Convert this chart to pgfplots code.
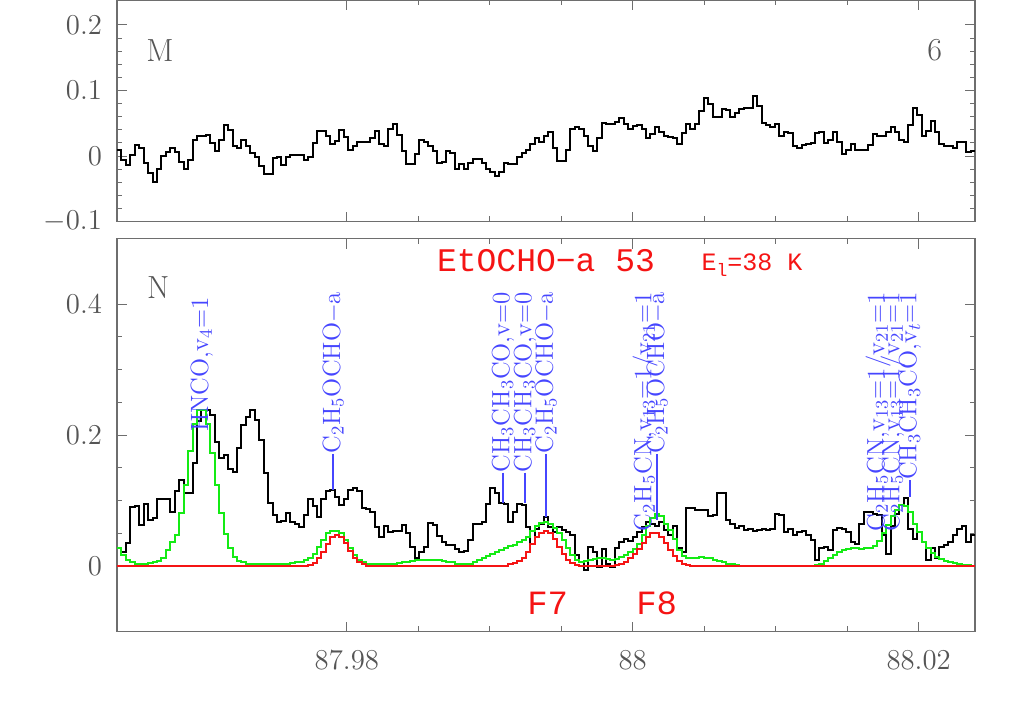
\documentclass[border=0pt]{standalone}
\usepackage{pgfplots}
\pgfplotsset{compat=1.18}
\usepackage{pgfplotstable}
\usepackage{fontspec}
\newfontfamily\redmono{Liberation Mono}
\definecolor{tickgray}{RGB}{85,85,85}
\definecolor{framegray}{RGB}{110,110,110}
\definecolor{labblue}{RGB}{70,70,255}
\definecolor{modgreen}{RGB}{20,235,20}
\definecolor{modred}{RGB}{245,20,20}

\pgfplotstableread{
x t o g r
87.963920 0.009 0.027 0.027 0
87.964231 -0.006 0.022 0.017 0
87.964542 -0.013 0.035 0.009 0
87.964853 0.002 0.091 0.006 0
87.965164 0.017 0.092 0.004 0
87.965475 0.012 0.063 0.004 0
87.965786 -0.011 0.095 0.004 0
87.966097 -0.026 0.070 0.005 0
87.966408 -0.039 0.074 0.007 0
87.966719 -0.019 0.103 0.008 0
87.967030 0.000 0.103 0.012 0
87.967341 0.007 0.103 0.024 0
87.967652 0.013 0.083 0.037 0
87.967963 0.006 0.115 0.047 0
87.968274 -0.009 0.131 0.081 0
87.968585 -0.019 0.111 0.124 0
87.968896 -0.006 0.111 0.175 0
87.969207 0.024 0.157 0.217 0
87.969518 0.031 0.221 0.239 0
87.969829 0.030 0.239 0.239 0
87.970140 0.032 0.239 0.217 0
87.970451 0.020 0.231 0.172 0
87.970762 0.008 0.190 0.124 0
87.971073 0.024 0.165 0.081 0
87.971384 0.048 0.170 0.049 0
87.971695 0.040 0.149 0.027 0
87.972006 0.015 0.143 0.014 0
87.972317 0.013 0.180 0.008 0
87.972628 0.024 0.216 0.006 0
87.972939 0.015 0.228 0.004 0
87.973250 0.004 0.239 0.004 0
87.973561 -0.002 0.223 0.004 0
87.973872 -0.015 0.192 0.004 0
87.974183 -0.028 0.142 0.004 0
87.974494 -0.028 0.096 0.004 0
87.974805 -0.003 0.078 0.004 0
87.975116 -0.002 0.068 0.004 0
87.975427 -0.013 0.069 0.004 0
87.975738 -0.001 0.081 0.004 0
87.976049 0.002 0.068 0.005 0
87.976360 0.002 0.065 0.006 0
87.976671 0.002 0.060 0.007 0
87.976982 -0.006 0.078 0.009 0
87.977293 -0.002 0.103 0.012 0.002
87.977604 0.020 0.092 0.019 0.005
87.977915 0.038 0.075 0.029 0.012
87.978226 0.038 0.103 0.040 0.022
87.978537 0.030 0.114 0.050 0.034
87.978848 0.019 0.116 0.054 0.044
87.979159 0.023 0.106 0.054 0.048
87.979470 0.040 0.094 0.050 0.045
87.979781 0.029 0.103 0.040 0.035
87.980092 0.009 0.116 0.027 0.023
87.980403 0.016 0.119 0.017 0.012
87.980714 0.022 0.114 0.009 0.006
87.981025 0.022 0.088 0.006 0.003
87.981336 0.021 0.087 0.004 0.001
87.981647 0.028 0.082 0.003 0
87.981958 0.038 0.060 0.003 0
87.982269 0.019 0.045 0.003 0
87.982580 0.015 0.061 0.003 0
87.982891 0.041 0.052 0.003 0
87.983202 0.049 0.054 0.004 0
87.983513 0.032 0.054 0.005 0
87.983824 0.008 0.063 0.006 0
87.984135 -0.012 0.050 0.007 0
87.984446 -0.012 0.030 0.008 0
87.984757 0.003 0.012 0.009 0
87.985068 0.024 0.022 0.010 0
87.985379 0.022 0.030 0.010 0
87.985690 0.015 0.066 0.010 0
87.986001 0.008 0.063 0.010 0
87.986312 -0.010 0.046 0.009 0
87.986623 -0.009 0.037 0.008 0
87.986934 0.008 0.033 0.007 0
87.987245 0.004 0.032 0.006 0
87.987556 -0.019 0.026 0.004 0
87.987867 -0.012 0.022 0.003 0
87.988178 -0.019 0.023 0.003 0
87.988489 -0.011 0.040 0.004 0
87.988800 -0.005 0.065 0.007 0
87.989111 -0.005 0.065 0.009 0
87.989422 -0.010 0.067 0.012 0
87.989733 -0.019 0.095 0.015 0
87.990044 -0.025 0.119 0.019 0
87.990355 -0.031 0.112 0.022 0
87.990666 -0.025 0.097 0.025 0
87.990977 -0.010 0.095 0.028 0
87.991288 -0.012 0.068 0.031 0.003
87.991599 -0.012 0.083 0.033 0.005
87.991910 -0.002 0.095 0.037 0.008
87.992221 0.004 0.093 0.040 0.013
87.992532 0.009 0.060 0.045 0.022
87.992843 0.019 0.034 0.053 0.034
87.993154 0.028 0.057 0.061 0.045
87.993465 0.021 0.065 0.066 0.051
87.993776 0.031 0.075 0.067 0.053
87.994087 0.037 0.060 0.065 0.050
87.994398 0.012 0.052 0.058 0.041
87.994709 -0.008 0.060 0.050 0.029
87.995020 -0.008 0.055 0.040 0.018
87.995331 0.009 0.052 0.028 0.010
87.995642 0.042 0.047 0.017 0.005
87.995953 0.044 0.017 0.009 0.002
87.996264 0.041 0.007 0.007 0
87.996575 0.031 -0.006 0.008 0
87.996886 0.015 0.029 0.009 0
87.997197 0.008 0.022 0.011 0
87.997508 0.028 -0.001 0.012 0
87.997819 0.050 0.026 0.012 0
87.998130 0.049 0.004 0.011 0
87.998441 0.049 -0.001 0.010 0
87.998752 0.052 0.027 0.011 0.002
87.999063 0.058 0.037 0.014 0.004
87.999374 0.049 0.042 0.017 0.007
87.999685 0.041 0.038 0.021 0.012
87.999996 0.046 0.045 0.026 0.018
88.000307 0.048 0.052 0.034 0.026
88.000618 0.042 0.060 0.048 0.036
88.000929 0.027 0.068 0.061 0.045
88.001240 0.034 0.065 0.073 0.050
88.001551 0.044 0.062 0.079 0.050
88.001862 0.037 0.067 0.077 0.045
88.002173 0.030 0.055 0.065 0.036
88.002484 0.029 0.047 0.055 0.025
88.002795 0.028 0.062 0.042 0.015
88.003106 0.019 0.027 0.024 0.008
88.003417 0.035 0.022 0.016 0.004
88.003728 0.049 0.088 0.013 0.002
88.004039 0.041 0.089 0.012 0
88.004350 0.049 0.086 0.013 0
88.004661 0.069 0.086 0.014 0
88.004972 0.089 0.085 0.013 0
88.005283 0.079 0.077 0.012 0
88.005594 0.059 0.078 0.010 0
88.005905 0.060 0.111 0.008 0
88.006216 0.072 0.112 0.006 0
88.006527 0.070 0.070 0.004 0
88.006838 0.060 0.065 0.003 0
88.007149 0.065 0.058 0.002 0
88.007460 0.072 0.061 0.001 0
88.007771 0.074 0.055 0.001 0
88.008082 0.073 0.057 0.001 0
88.008393 0.091 0.053 0.001 0
88.008704 0.076 0.055 0.001 0
88.009015 0.051 0.056 0.001 0
88.009326 0.048 0.055 0.001 0
88.009637 0.044 0.057 0.001 0
88.009948 0.049 0.079 0.001 0
88.010259 0.031 0.078 0.001 0
88.010570 0.036 0.052 0.001 0
88.010881 0.035 0.057 0.001 0
88.011192 0.015 0.047 0.001 0
88.011503 0.013 0.052 0.001 0
88.011814 0.017 0.053 0.001 0
88.012125 0.019 0.047 0.001 0
88.012436 0.020 0.040 0.001 0
88.012747 0.035 0.009 0.002 0
88.013058 0.036 0.027 0.004 0
88.013369 0.020 0.029 0.008 0
88.013680 0.025 0.024 0.012 0
88.013991 0.037 0.055 0.017 0
88.014302 0.022 0.058 0.021 0
88.014613 0.003 0.057 0.024 0
88.014924 0.009 0.052 0.026 0
88.015235 0.018 0.037 0.027 0
88.015546 0.010 0.034 0.027 0
88.015857 0.009 0.065 0.026 0
88.016168 0.009 0.082 0.027 0
88.016479 0.017 0.082 0.028 0
88.016790 0.033 0.079 0.031 0
88.017101 0.031 0.078 0.038 0
88.017412 0.030 0.047 0.051 0
88.017723 0.036 0.019 0.063 0
88.018034 0.044 0.062 0.077 0
88.018345 0.036 0.080 0.085 0
88.018656 0.024 0.093 0.093 0
88.018967 0.021 0.104 0.092 0
88.019278 0.048 0.057 0.082 0
88.019589 0.073 0.042 0.065 0
88.019900 0.063 0.052 0.052 0
88.020211 0.031 0.037 0.037 0
88.020522 0.039 0.009 0.028 0
88.020833 0.053 0.027 0.020 0
88.021144 0.036 0.012 0.014 0
88.021455 0.019 0.029 0.011 0
88.021766 0.016 0.032 0.008 0
88.022077 0.016 0.037 0.006 0
88.022388 0.013 0.047 0.005 0
88.022699 0.021 0.056 0.003 0
88.023010 0.022 0.061 0.002 0
88.023321 0.007 0.037 0.002 0
88.023632 0.008 0.047 0.001 0
88.023943 0.008 0.047 0.001 0
}\spec

\tikzset{
  lab/.style={rotate=90, anchor=east, inner sep=0pt, text=labblue,
    font=\fontsize{12.5}{14}\selectfont},
  labline/.style={labblue, line width=0.7pt},
}

\begin{document}
\begin{tikzpicture}
\useasboundingbox (0,0) rectangle (512.5pt,358.5pt);
\pgfplotsset{
  panel/.style={
    scale only axis, width=429pt,
    xmin=87.96392, xmax=88.023943,
    xtick={87.98,88,88.02},
    minor x tick num=3,
    scaled x ticks=false, scaled y ticks=false,
    tick align=inside,
    xtick pos=both, ytick pos=both,
    major tick length=5pt, minor tick length=2.6pt,
    every tick/.style={framegray, line width=0.5pt},
    axis line style={framegray, line width=0.6pt},
    tick label style={font=\fontsize{15.5}{18}\selectfont, text=tickgray},
    yticklabel style={xshift=-4pt},
    xticklabel style={yshift=-6pt},
    clip=false,
    anchor=south west,
  },
}
% ---------- top panel ----------
\begin{axis}[panel, at={(58.5pt,247.65pt)}, height=110.85pt,
  ymin=-0.1, ymax=0.238,
  ytick={-0.1,0,0.1,0.2}, yticklabels={$-0.1$,$0$,$0.1$,$0.2$},
  minor y tick num=4, xticklabels={}]
\addplot[black, line width=1pt, const plot] table[x=x,y=t]{\spec};
\node[font=\fontsize{16}{18}\selectfont, text=tickgray] at (rel axis cs:0.050,0.770) {M};
\node[font=\fontsize{16}{18}\selectfont, text=tickgray] at (rel axis cs:0.953,0.774) {6};
\end{axis}
% ---------- bottom panel ----------
\begin{axis}[panel, at={(58.5pt,42.65pt)}, height=196.6pt,
  ymin=-0.1, ymax=0.5,
  ytick={0,0.2,0.4}, yticklabels={$0$,$0.2$,$0.4$},
  minor y tick num=3,
  xticklabels={$87.98$,$88$,$88.02$}]
\addplot[black, line width=1pt, const plot] table[x=x,y=o]{\spec};
\addplot[modgreen, line width=1pt, const plot] table[x=x,y=g]{\spec};
\addplot[modred, line width=1pt, const plot] table[x=x,y=r]{\spec};

\node[font=\fontsize{16}{18}\selectfont, text=tickgray] at (rel axis cs:0.048,0.876) {N};
\node[text=modred, font=\redmono\fontsize{16.5}{18}\selectfont] at (rel axis cs:0.500,0.945) {EtOCHO−a 53};
\node[text=modred, font=\redmono\fontsize{12.5}{14}\selectfont] at (rel axis cs:0.740,0.932) {E\raisebox{-0.4ex}{\fontsize{9}{10}\selectfont l}=38 K};
\node[text=modred, font=\redmono\fontsize{17}{19}\selectfont] at (rel axis cs:0.502,0.073) {F7};
\node[text=modred, font=\redmono\fontsize{17}{19}\selectfont] at (rel axis cs:0.629,0.073) {F8};

\node[lab] at (axis cs:87.96985,0.411) {HNCO,v$_4$=1};
\node[lab] (a1) at (axis cs:87.97904,0.419) {C$_2$H$_5$OCHO$-$a};
\draw[labline] (a1.west) -- (axis cs:87.97904,0.116);
\node[lab] (a2) at (axis cs:87.99093,0.419) {CH$_3$CH$_3$CO,v=0};
\draw[labline] (a2.west) -- (axis cs:87.99093,0.096);
\node[lab] (a3) at (axis cs:87.99247,0.419) {CH$_3$CH$_3$CO,v=0};
\draw[labline] (a3.west) -- (axis cs:87.99247,0.096);
\node[lab] (a4) at (axis cs:87.99393,0.419) {C$_2$H$_5$OCHO$-$a};
\draw[labline] (a4.west) -- (axis cs:87.99393,0.075);
\node[lab] at (axis cs:88.00086,0.419) {C$_2$H$_5$CN,v$_{13}$=1/v$_{21}$=1};
\node[lab] (a5) at (axis cs:88.00170,0.419) {C$_2$H$_5$OCHO$-$a};
\draw[labline] (a5.west) -- (axis cs:88.00170,0.070);
\node[lab] at (axis cs:88.01716,0.419) {C$_2$H$_5$CN,v$_{13}$=1/v$_{21}$=1};
\node[lab] at (axis cs:88.01821,0.419) {C$_2$H$_5$CN,v$_{13}$=1/v$_{21}$=1};
\node[lab] (a6) at (axis cs:88.01940,0.419) {CH$_3$CH$_3$CO,v$_t$=1};
\draw[labline] (a6.west) -- (axis cs:88.01940,0.105);
\end{axis}
\end{tikzpicture}
\end{document}
